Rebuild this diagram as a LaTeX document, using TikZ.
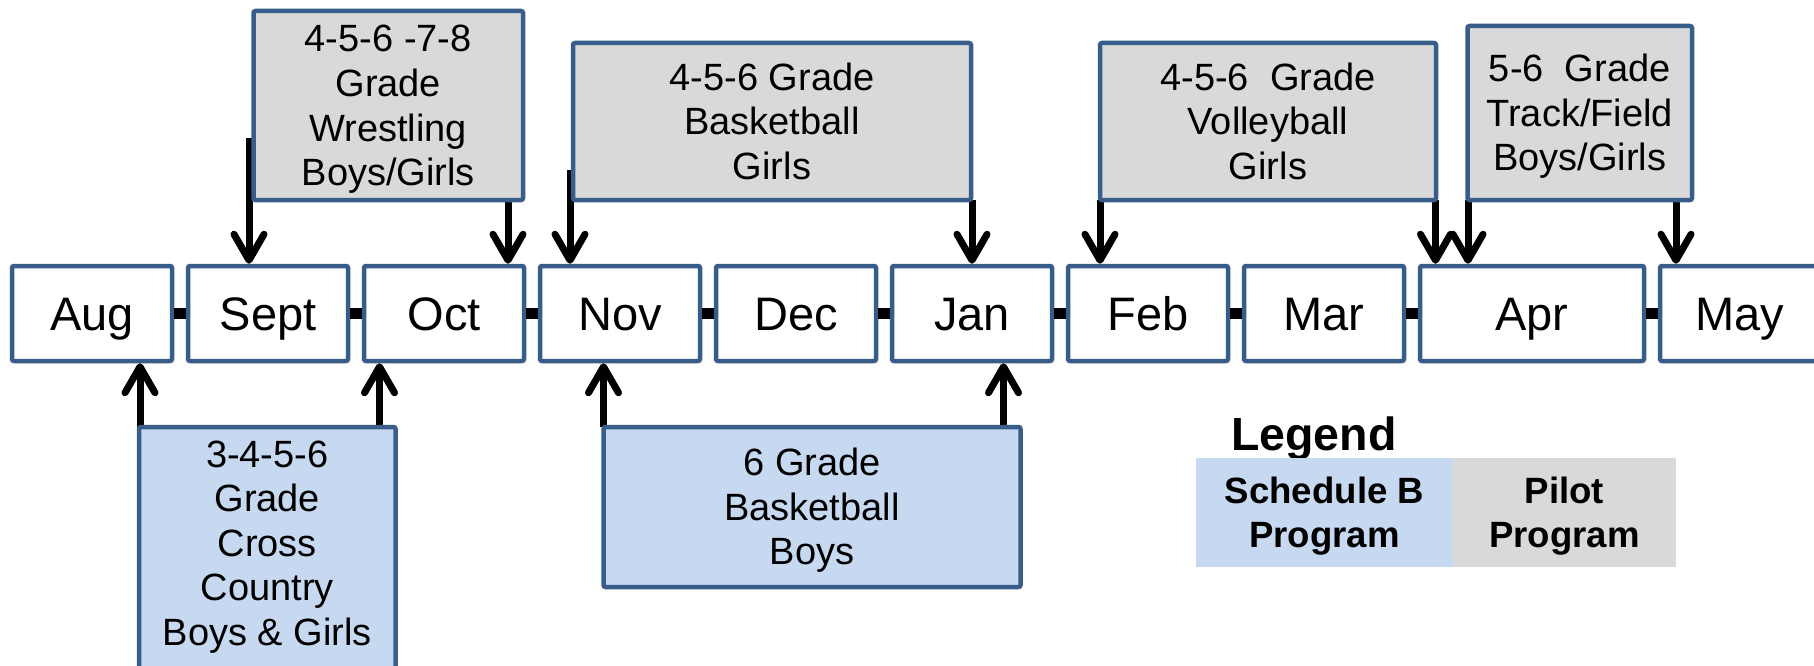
\documentclass[tikz,border=0pt]{standalone}
\usepackage{fontspec}
\setmainfont{Liberation Sans}
\usetikzlibrary{arrows.meta}
\definecolor{bord}{RGB}{56,93,138}
\definecolor{bluef}{RGB}{198,217,241}
\definecolor{grayf}{RGB}{217,217,217}
\newcommand{\mystrut}{\rule[-8.2pt]{0pt}{43pt}}
\begin{document}
\begin{tikzpicture}[x=1pt,y=-1pt,
  month/.style={draw=bord, line width=4.5pt, fill=white, rounded corners=2pt, inner sep=0pt,
    minimum height=95pt, font=\fontsize{47}{56}\selectfont, text height=34pt, text depth=0pt},
  prog/.style={draw=bord, line width=4.5pt, rounded corners=2pt, inner sep=0pt, align=center,
    font=\fontsize{38}{44.6}\selectfont},
  pilot/.style={prog, fill=grayf},
  schedb/.style={prog, fill=bluef},
  legbox/.style={inner sep=0pt, minimum height=109pt, align=center,
    font=\bfseries\fontsize{36.6}{44.6}\selectfont},
  conn/.style={line width=11.5pt, black},
  arr/.style={line width=7pt, black, -{Straight Barb[length=26pt,width=30pt,round]}},
]
\useasboundingbox (0,0) rectangle (1814,666);
\clip (0,0) rectangle (1814,666);

% month boxes
\node[month, minimum width=160pt] (aug)  at (92,313.5)   {Aug};
\node[month, minimum width=160pt] (sept) at (268,313.5)  {Sept};
\node[month, minimum width=160pt] (oct)  at (444,313.5)  {Oct};
\node[month, minimum width=160pt] (nov)  at (620,313.5)  {Nov};
\node[month, minimum width=160pt] (dec)  at (796,313.5)  {Dec};
\node[month, minimum width=160pt] (jan)  at (972,313.5)  {Jan};
\node[month, minimum width=160pt] (feb)  at (1148,313.5) {Feb};
\node[month, minimum width=160pt] (mar)  at (1324,313.5) {Mar};
\node[month, minimum width=224pt] (apr)  at (1532,313.5) {Apr};
\node[month, minimum width=160pt] (may)  at (1740,313.5) {May};

% connectors between months
\foreach \a/\b in {aug/sept,sept/oct,oct/nov,nov/dec,dec/jan,jan/feb,feb/mar,mar/apr,apr/may}
  \draw[conn] (\a.east) -- (\b.west);

% arrow start coordinates
\coordinate (d1) at (249,138);
\coordinate (d2) at (508,200);
\coordinate (d3) at (570,170);
\coordinate (d4) at (972,200);
\coordinate (d5) at (1100,200);
\coordinate (d6) at (1435.5,200);
\coordinate (d7) at (1468,200);
\coordinate (d8) at (1676,200);
\coordinate (u1) at (140,442);
\coordinate (u2) at (379.5,427);
\coordinate (u3) at (603.5,427);
\coordinate (u4) at (1003.5,427);

\draw[arr] (d1) -- (d1 |- sept.north);
\draw[arr] (d2) -- (d2 |- oct.north);
\draw[arr] (d3) -- (d3 |- nov.north);
\draw[arr] (d4) -- (d4 |- jan.north);
\draw[arr] (d5) -- (d5 |- feb.north);
\draw[arr] (d6) -- (d6 |- apr.north);
\draw[arr] (d7) -- (d7 |- apr.north);
\draw[arr] (d8) -- (d8 |- may.north);
\draw[arr] (u1) -- (u1 |- aug.south);
\draw[arr] (u2) -- (u2 |- oct.south);
\draw[arr] (u3) -- (u3 |- nov.south);
\draw[arr] (u4) -- (u4 |- jan.south);

% program boxes
\node[pilot, minimum width=269.5pt, minimum height=189pt] (wr) at (388.25,105.5)
  {\mystrut 4-5-6 -7-8\\Grade\\Wrestling\\Boys/Girls\mystrut};
\node[pilot, minimum width=398pt, minimum height=157pt] (bbg) at (772,121.5)
  {\mystrut 4-5-6 Grade\\Basketball\\Girls\mystrut};
\node[pilot, minimum width=336pt, minimum height=157pt] (vb) at (1268,121.5)
  {\mystrut 4-5-6~~Grade\\Volleyball\\Girls\mystrut};
\node[pilot, minimum width=224.5pt, minimum height=174pt] (tf) at (1579.75,113)
  {\mystrut 5-6~~Grade\\Track/Field\\Boys/Girls\mystrut};
\node[schedb, minimum width=256.5pt, minimum height=243pt] (cc) at (267.25,548.5)
  {\mystrut 3-4-5-6\\Grade\\Cross\\Country\\Boys \& Girls\rule[-19.4pt]{0pt}{43pt}};
\node[schedb, minimum width=417pt, minimum height=160pt] (bbb) at (812,507)
  {\mystrut 6 Grade\\Basketball\\Boys\mystrut};

% legend
\node[anchor=base west, inner sep=0pt, font=\bfseries\fontsize{46.5}{52}\selectfont] (legt) at (1231,450) {Legend};
\node[legbox, fill=bluef, minimum width=257pt] (legb) at (1324.5,512.5) {\rule{0pt}{33.5pt}Schedule B\\Program};
\node[legbox, fill=grayf, minimum width=223pt] (legp) at (1564.5,512.5) {\rule{0pt}{33.5pt}Pilot\\Program};
\end{tikzpicture}
\end{document}
